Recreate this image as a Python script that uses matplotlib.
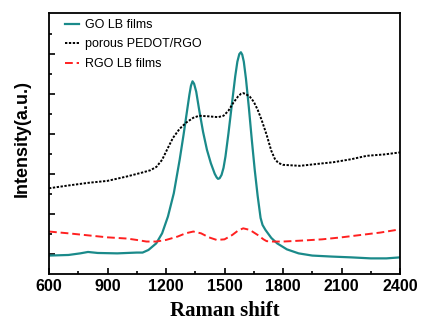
import matplotlib
matplotlib.use('Agg')
import matplotlib.pyplot as plt
from matplotlib.ticker import MultipleLocator

# GO LB films (teal)
go_x = [600, 700, 760, 800, 850, 950, 1050, 1080, 1110, 1150, 1180, 1210, 1240, 1270,
        1290, 1305, 1320, 1328, 1336, 1344, 1355, 1370, 1390, 1410, 1430, 1450, 1460,
        1467, 1475, 1485, 1495, 1505, 1520, 1540, 1555, 1566, 1576, 1584, 1591, 1599,
        1610, 1625, 1640, 1655, 1670, 1685, 1695, 1710, 1740, 1770, 1820, 1880, 1950,
        2050, 2150, 2250, 2330, 2400]
go_y = [0.92, 0.95, 1.03, 1.10, 1.05, 1.03, 1.07, 1.07, 1.2, 1.53, 2.03, 2.87, 4.03, 5.7,
        6.95, 7.95, 8.95, 9.4, 9.62, 9.5, 9.1, 8.2, 7.1, 6.2, 5.53, 5.0, 4.82,
        4.75, 4.78, 4.95, 5.3, 5.87, 7.0, 8.65, 9.87, 10.6, 10.98, 11.07, 10.95, 10.6,
        9.75, 8.3, 6.7, 5.2, 3.9, 2.8, 2.45, 2.2, 1.8, 1.53, 1.23, 1.03, 0.92,
        0.87, 0.83, 0.78, 0.78, 0.83]

# porous PEDOT/RGO (black dotted)
pedot_x = [600, 700, 800, 900, 1000, 1080, 1120, 1151, 1180, 1210, 1236, 1270, 1305, 1340,
           1370, 1420, 1467, 1495, 1520, 1544, 1570, 1585, 1596, 1610, 1630, 1650, 1670,
           1690, 1716, 1740, 1758, 1775, 1800, 1887, 1980, 2058, 2150, 2229, 2320, 2400]
pedot_y = [4.28, 4.42, 4.55, 4.65, 4.87, 5.07, 5.18, 5.35, 5.7, 6.3, 6.8, 7.25, 7.57, 7.8,
           7.9, 7.87, 7.83, 7.9, 8.15, 8.53, 8.87, 9.0, 9.03, 8.98, 8.85, 8.6, 8.2,
           7.7, 6.95, 6.15, 5.75, 5.55, 5.45, 5.4, 5.5, 5.58, 5.73, 5.9, 5.97, 6.07]

# RGO LB films (red dashed)
rgo_x = [600, 700, 800, 900, 1000, 1050, 1100, 1150, 1200, 1260, 1300, 1340, 1380, 1420,
         1460, 1500, 1540, 1570, 1596, 1630, 1670, 1700, 1716, 1750, 1800, 1900, 2000,
         2100, 2200, 2300, 2400]
rgo_y = [2.12, 2.03, 1.93, 1.83, 1.77, 1.7, 1.62, 1.62, 1.7, 1.87, 2.03, 2.12, 2.03, 1.83,
         1.7, 1.73, 1.95, 2.17, 2.28, 2.2, 1.95, 1.73, 1.64, 1.62, 1.62, 1.67, 1.73,
         1.83, 1.95, 2.07, 2.23]

fig = plt.figure(figsize=(4.21, 3.22), dpi=100)
ax = fig.add_axes([49 / 421, 48 / 322, 351 / 421, 261 / 322])

ax.plot(go_x, go_y, color='#1a8a8a', lw=1.6, label='GO LB films')
ax.plot(pedot_x, pedot_y, color='black', lw=1.4, ls=(0, (1.2, 0.8)), label='porous PEDOT/RGO')
ax.plot(rgo_x, rgo_y, color='#ff2020', lw=1.4, ls=(0, (4, 2)), label='RGO LB films')

ax.set_xlim(600, 2400)
ax.set_ylim(0, 13.03)
ax.xaxis.set_major_locator(MultipleLocator(300))
ax.xaxis.set_minor_locator(MultipleLocator(150))
ax.set_yticks([1, 3, 5, 7, 9, 11])
ax.set_yticks([2, 4, 6, 8, 10, 12], minor=True)
ax.set_yticklabels([])
ax.tick_params(which='both', direction='in', width=1.2, top=False, right=False)
ax.tick_params(which='major', length=4)
ax.tick_params(which='minor', length=2.5)
for s in ax.spines.values():
    s.set_linewidth(1.3)

for lab in ax.get_xticklabels():
    lab.set_fontfamily('Liberation Sans')
    lab.set_fontweight('bold')
    lab.set_fontsize(11.5)

ax.set_xlabel('Raman shift', fontfamily='Liberation Serif', fontweight='bold', fontsize=15, labelpad=5)
ax.set_ylabel('Intensity(a.u.)', fontfamily='Liberation Sans', fontweight='bold', fontsize=13)
ax.yaxis.set_label_coords(-0.052, 0.52)

leg = ax.legend(loc='upper left', frameon=False, prop={'family': 'Liberation Sans', 'size': 9},
                handlelength=1.15, handletextpad=0.45, labelspacing=0.6,
                borderaxespad=0, borderpad=0, bbox_to_anchor=(16 / 351, 1 - 6 / 261))

fig.savefig('out.png', dpi=100)
